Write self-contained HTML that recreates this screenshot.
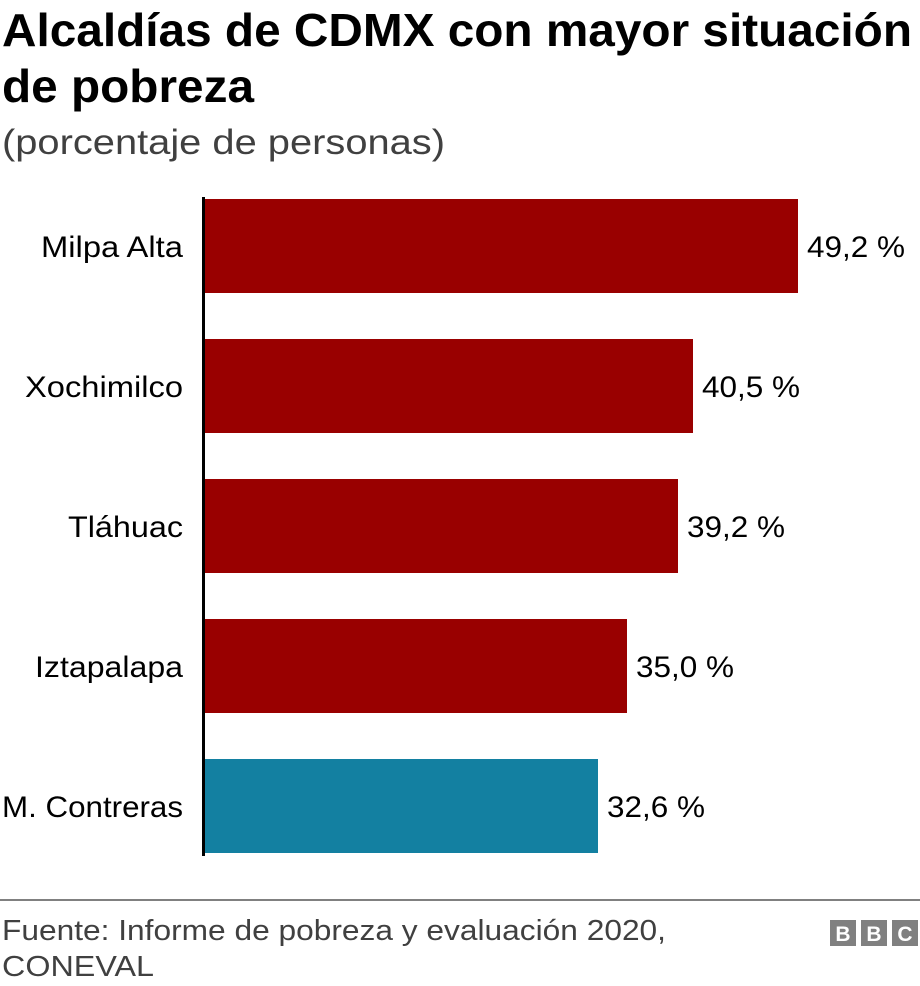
<!DOCTYPE html>
<html><head><meta charset="utf-8"><style>
html,body{margin:0;padding:0;background:#fff;width:920px;height:986px;overflow:hidden}
</style></head><body>
<svg width="920" height="986" xmlns="http://www.w3.org/2000/svg" font-family="Liberation Sans, Arial, sans-serif">
<text x="2" y="46" font-size="46" font-weight="bold" fill="#000" textLength="910" lengthAdjust="spacingAndGlyphs">Alcaldías de CDMX con mayor situación</text>
<text x="2" y="102" font-size="46" font-weight="bold" fill="#000" textLength="252" lengthAdjust="spacingAndGlyphs">de pobreza</text>
<text x="2" y="154" font-size="35" fill="#404040" textLength="443" lengthAdjust="spacingAndGlyphs">(porcentaje de personas)</text>
<g fill="#990000">
<rect x="204" y="199" width="594" height="94"/>
<rect x="204" y="339" width="489" height="94"/>
<rect x="204" y="479" width="474" height="94"/>
<rect x="204" y="619" width="423" height="94"/>
</g>
<rect x="204" y="759" width="394" height="94" fill="#1380A1"/>
<rect x="202" y="197" width="3" height="659" fill="#000"/>
<g font-size="30" fill="#000" text-anchor="end" lengthAdjust="spacingAndGlyphs">
<text x="183" y="257" textLength="142" lengthAdjust="spacingAndGlyphs">Milpa Alta</text>
<text x="183" y="397" textLength="158" lengthAdjust="spacingAndGlyphs">Xochimilco</text>
<text x="183" y="537" textLength="115" lengthAdjust="spacingAndGlyphs">Tláhuac</text>
<text x="183" y="677" textLength="148" lengthAdjust="spacingAndGlyphs">Iztapalapa</text>
<text x="183" y="817" textLength="181" lengthAdjust="spacingAndGlyphs">M. Contreras</text>
</g>
<g font-size="30" fill="#000">
<text x="807" y="257" textLength="98" lengthAdjust="spacingAndGlyphs">49,2 %</text>
<text x="702" y="397" textLength="98" lengthAdjust="spacingAndGlyphs">40,5 %</text>
<text x="687" y="537" textLength="98" lengthAdjust="spacingAndGlyphs">39,2 %</text>
<text x="636" y="677" textLength="98" lengthAdjust="spacingAndGlyphs">35,0 %</text>
<text x="607" y="817" textLength="98" lengthAdjust="spacingAndGlyphs">32,6 %</text>
</g>
<rect x="0" y="899" width="920" height="2" fill="#808080"/>
<g font-size="29" fill="#404040">
<text x="2" y="940" textLength="664" lengthAdjust="spacingAndGlyphs">Fuente: Informe de pobreza y evaluación 2020,</text>
<text x="2" y="976" textLength="152" lengthAdjust="spacingAndGlyphs">CONEVAL</text>
</g>
<g fill="#808080">
<rect x="830" y="920" width="26" height="26"/>
<rect x="861" y="920" width="26" height="26"/>
<rect x="892" y="920" width="26" height="26"/>
</g>
<g font-size="21" font-weight="bold" fill="#fff" text-anchor="middle">
<text x="843" y="941">B</text><text x="874" y="941">B</text><text x="905" y="941">C</text>
</g>
</svg>
</body></html>
